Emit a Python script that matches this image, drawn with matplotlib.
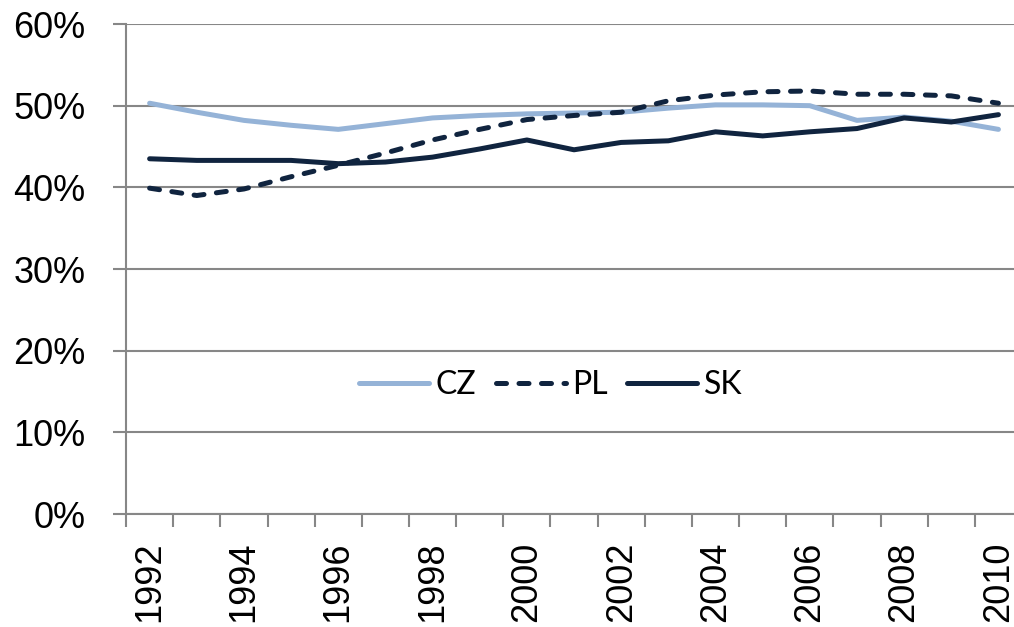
import numpy as np
import matplotlib
matplotlib.use('Agg')
import matplotlib.pyplot as plt
from matplotlib.ticker import FixedLocator, PercentFormatter

# data (share, %)
years = list(range(1992, 2011))
cz = [50.3, 49.2, 48.2, 47.6, 47.1, 47.8, 48.5, 48.8, 49.0, 49.1, 49.2, 49.7, 50.1, 50.1, 50.0, 48.2, 48.6, 48.1, 47.1]
pl = [39.9, 39.0, 39.8, 41.3, 42.7, 44.2, 45.8, 47.1, 48.3, 48.8, 49.2, 50.6, 51.3, 51.7, 51.8, 51.4, 51.4, 51.2, 50.3]
sk = [43.5, 43.3, 43.3, 43.3, 42.9, 43.1, 43.7, 44.7, 45.8, 44.6, 45.5, 45.7, 46.8, 46.3, 46.8, 47.2, 48.5, 48.0, 48.9]

light = '#95B3D7'
dark = '#10243F'
grey = '#878787'

fig = plt.figure(figsize=(10.14, 6.27), dpi=100)
ax = fig.add_axes([0.1243, 0.1802, 0.8836, 0.7815])

x = np.arange(len(years))
ax.plot(x, cz, color=light, lw=3.6, solid_capstyle='round', solid_joinstyle='round', label='CZ')
ax.plot(x, pl, color=dark, lw=3.6, linestyle=(0, (2.0, 2.5)), dash_capstyle='round',
        dash_joinstyle='round', label='PL')
ax.plot(x, sk, color=dark, lw=3.6, solid_capstyle='round', solid_joinstyle='round', label='SK')

ax.set_xlim(-0.5, len(years) - 0.5)
ax.set_ylim(0, 60)
ax.set_yticks(np.arange(0, 61, 10))
ax.yaxis.set_major_formatter(PercentFormatter(decimals=0))
ax.yaxis.grid(True, color=grey, lw=1.5)
ax.set_axisbelow(True)

# labels every other year, tick marks between categories
ax.set_xticks(x[::2])
ax.set_xticklabels([str(y) for y in years[::2]], rotation=90, va='top', ha='center')
ax.xaxis.set_minor_locator(FixedLocator(np.arange(-0.5, len(years), 1.0)))
ax.tick_params(axis='x', which='major', length=0, pad=20, labelsize=26)
ax.tick_params(axis='x', which='minor', length=9.4, width=1.5, color=grey, direction='out')
ax.tick_params(axis='y', which='major', length=9.4, width=1.5, color=grey, pad=20, labelsize=26)

for lab in ax.get_xticklabels() + ax.get_yticklabels():
    lab.set_fontfamily('Liberation Sans')

for s in ['top', 'right']:
    ax.spines[s].set_visible(False)
for s in ['left', 'bottom']:
    ax.spines[s].set_color(grey)
    ax.spines[s].set_linewidth(1.5)

leg = ax.legend(loc='center', bbox_to_anchor=(0.474, 0.263), ncol=3, frameon=False,
                prop={'family': 'Lato', 'size': 23}, handlelength=2.2, handletextpad=0.2,
                columnspacing=0.6)

fig.savefig('out.png', dpi=100)
